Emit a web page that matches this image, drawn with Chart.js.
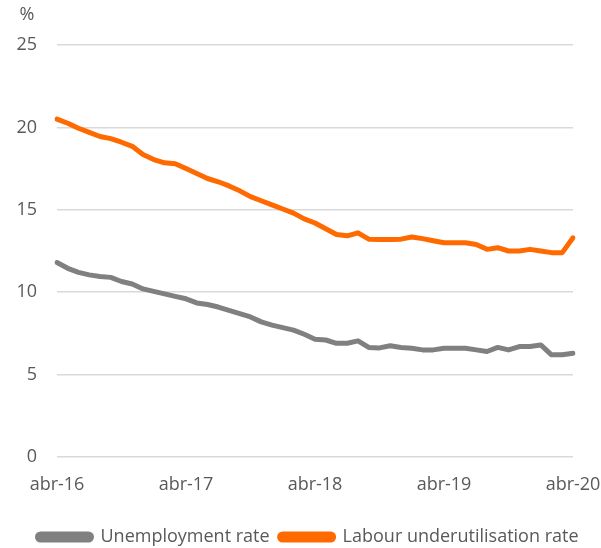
<!DOCTYPE html>
<html>
<head>
<meta charset="utf-8">
<script src="https://cdn.jsdelivr.net/npm/chart.js@4/dist/chart.umd.min.js"></script>
<style>
  html, body { margin: 0; padding: 0; background: #fff; }
  #wrap { width: 601px; height: 548px; }
</style>
</head>
<body>
<div id="wrap"><canvas id="myChart" width="601" height="548"></canvas></div>
<script>
// monthly categories, abr-16 .. abr-20
let monthNames = ['ene', 'feb', 'mar', 'abr', 'may', 'jun', 'jul', 'ago', 'sep', 'oct', 'nov', 'dic'];
let years = ['16', '17', '18', '19', '20'];
let tickLabels = ['abr-16', 'abr-17', 'abr-18', 'abr-19', 'abr-20'];

let unemploymentRate = [11.8, 11.45, 11.2, 11.05, 10.95, 10.9, 10.65, 10.5, 10.2, 10.05, 9.9, 9.75,
    9.6, 9.35, 9.25, 9.1, 8.9, 8.7, 8.5, 8.2, 8.0, 7.85, 7.7, 7.45,
    7.15, 7.1, 6.9, 6.9, 7.05, 6.65, 6.62, 6.75, 6.65, 6.6, 6.5, 6.5,
    6.6, 6.6, 6.6, 6.5, 6.4, 6.65, 6.5, 6.7, 6.7, 6.8, 6.2, 6.2,
    6.3];
let underutilisationRate = [20.5, 20.25, 19.95, 19.7, 19.45, 19.32, 19.1, 18.85, 18.35, 18.05, 17.85, 17.8,
    17.5, 17.2, 16.9, 16.7, 16.45, 16.15, 15.8, 15.55, 15.3, 15.05, 14.8, 14.45,
    14.2, 13.85, 13.5, 13.42, 13.6, 13.22, 13.2, 13.2, 13.22, 13.35, 13.25, 13.12,
    13.0, 13.0, 13.0, 12.9, 12.6, 12.7, 12.5, 12.5, 12.6, 12.5, 12.4, 12.4,
    13.3];

let labels = [];
for (let y = 0; y < years.length; y++) {
    for (let m = 0; m < 12; m++) {
        if (y === 0 && m < 3) continue;
        if (y === years.length - 1 && m > 3) continue;
        labels.push(monthNames[m] + '-' + years[y]);
    }
}

const textColor = '#595959';
const fontFamily = "'Open Sans', sans-serif";

const percentLabel = {
    id: 'percentLabel',
    afterDraw(chart) {
        const ctx = chart.ctx;
        ctx.save();
        ctx.fillStyle = textColor;
        ctx.font = '18px ' + fontFamily;
        ctx.textAlign = 'center';
        ctx.textBaseline = 'middle';
        ctx.fillText('%', 27, 15);
        ctx.restore();
    }
};

let ctx = document.getElementById('myChart').getContext('2d');
let chart = new Chart(ctx, {
    type: 'line',
    data: {
        labels: labels,
        datasets: [{
            label: 'Unemployment rate',
            data: unemploymentRate,
            borderColor: '#808080',
            backgroundColor: '#808080',
            borderWidth: 5,
            pointRadius: 0,
            tension: 0,
            borderCapStyle: 'round',
            borderJoinStyle: 'round'
        }, {
            label: 'Labour underutilisation rate',
            data: underutilisationRate,
            borderColor: '#ff6a00',
            backgroundColor: '#ff6a00',
            borderWidth: 5,
            pointRadius: 0,
            tension: 0,
            borderCapStyle: 'round',
            borderJoinStyle: 'round'
        }]
    },
    options: {
        responsive: false,
        animation: false,
        layout: {
            padding: { left: 15, right: 0, top: 45, bottom: -8 }
        },
        plugins: {
            tooltip: { enabled: false },
            legend: {
                position: 'bottom',
                labels: {
                    color: textColor,
                    font: { family: fontFamily, size: 18 },
                    boxWidth: 54,
                    boxHeight: 6,
                    useBorderRadius: true,
                    borderRadius: 3,
                    padding: 10
                }
            }
        },
        scales: {
            x: {
                offset: false,
                grid: { display: false, drawTicks: false },
                border: { display: false },
                afterFit: function (scale) {
                    scale.paddingLeft = 0;
                    scale.paddingRight = 28;
                    scale.height = 61;
                },
                ticks: {
                    autoSkip: false,
                    maxRotation: 0,
                    padding: 17,
                    color: textColor,
                    font: { family: fontFamily, size: 18 },
                    callback: function (value, index) {
                        let lab = this.getLabelForValue(value);
                        return tickLabels.includes(lab) ? lab : null;
                    }
                }
            },
            y: {
                min: 0,
                max: 25,
                grid: { color: '#d9d9d9', lineWidth: 1.5, drawTicks: false },
                border: { display: false },
                afterFit: function (scale) {
                    scale.width = 42;
                    scale.paddingTop = 0;
                    scale.paddingBottom = 0;
                },
                ticks: {
                    stepSize: 5,
                    padding: 20,
                    color: textColor,
                    font: { family: fontFamily, size: 18 }
                }
            }
        }
    },
    plugins: [percentLabel]
});
</script>
</body>
</html>
